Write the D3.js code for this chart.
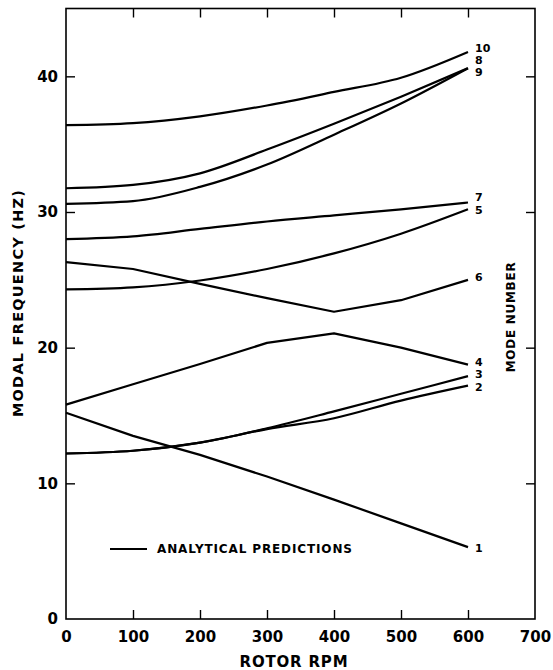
<!DOCTYPE html>
<html>
<head>
<meta charset="utf-8">
<script src="https://cdn.jsdelivr.net/npm/d3@7"></script>
<style>
  body { margin: 0; background: #fff; }
  svg { display: block; font-family: "DejaVu Sans", "Liberation Sans", Arial, sans-serif; font-weight: bold; }
</style>
</head>
<body>
<svg id="chart" width="553" height="670"></svg>
<script>
// ---- data ----
const rpm = [0, 100, 200, 300, 400, 500, 600];
const mode1  = [15.2, 13.5, 12.1, 10.5, 8.8, 7.05, 5.3];
const mode2  = [12.2, 12.4, 13.0, 14.0, 14.8, 16.1, 17.2];
const mode3  = [12.2, 12.4, 13.0, 14.05, 15.3, 16.6, 17.9];
const mode4  = [15.8, 17.3, 18.8, 20.35, 21.05, 20.0, 18.75];
const mode5  = [24.3, 24.45, 24.95, 25.8, 26.95, 28.4, 30.2];
const mode6  = [26.3, 25.8, 24.7, 23.65, 22.65, 23.5, 25.0];
const mode7  = [28.0, 28.2, 28.75, 29.3, 29.75, 30.2, 30.7];
const mode8  = [31.75, 32.0, 32.85, 34.6, 36.5, 38.5, 40.6];
const mode9  = [30.6, 30.8, 31.85, 33.5, 35.7, 38.0, 40.6];
const mode10 = [36.4, 36.55, 37.05, 37.85, 38.85, 39.9, 41.8];
const modeNames = ["1", "2", "3", "4", "5", "6", "7", "8", "9", "10"];
const xTicks = [0, 100, 200, 300, 400, 500, 600, 700];
const yTicks = [0, 10, 20, 30, 40];
const xTitle = "ROTOR RPM";
const yTitle = "MODAL FREQUENCY (HZ)";
const rightTitle = "MODE NUMBER";
const legendText = "ANALYTICAL PREDICTIONS";

const modes = [mode1, mode2, mode3, mode4, mode5, mode6, mode7, mode8, mode9, mode10];

// ---- layout ----
const svg = d3.select("#chart");
const L = 66, R = 535, T = 8.5, B = 619;
const x = d3.scaleLinear().domain([0, 700]).range([L, R]);
const y = d3.scaleLinear().domain([0, 45]).range([B, T]);

// frame
svg.append("rect").attr("x", L).attr("y", T).attr("width", R - L).attr("height", B - T)
  .attr("fill", "none").attr("stroke", "#000").attr("stroke-width", 1.6);

function styleAxis(g) {
  g.select(".domain").remove();
  g.selectAll(".tick line").attr("stroke", "#000").attr("stroke-width", 1.4);
  g.selectAll("text").attr("fill", "#000").style("font-size", "15px")
    .style("font-weight", "bold")
    .style("font-family", "'DejaVu Sans', 'Liberation Sans', Arial, sans-serif");
}

// bottom axis
svg.append("g").attr("transform", `translate(0,${B})`)
  .call(d3.axisBottom(x).tickValues(xTicks).tickFormat(d3.format("d")).tickSizeInner(-9).tickSizeOuter(0).tickPadding(12))
  .call(styleAxis)
  .call(g => g.selectAll(".tick").filter(d => d === 0 || d === 700).select("line").remove());

// left axis
svg.append("g").attr("transform", `translate(${L},0)`)
  .call(d3.axisLeft(y).tickValues(yTicks).tickFormat(d3.format("d")).tickSizeInner(-9).tickSizeOuter(0).tickPadding(8))
  .call(styleAxis)
  .call(g => g.selectAll(".tick").filter(d => d === 0).select("line").remove());

// top axis (ticks only)
svg.append("g").attr("transform", `translate(0,${T})`)
  .call(d3.axisTop(x).tickValues(xTicks.filter(d => d > 0 && d < 700)).tickFormat("").tickSizeInner(-9).tickSizeOuter(0))
  .call(styleAxis);

// right axis (ticks only)
svg.append("g").attr("transform", `translate(${R},0)`)
  .call(d3.axisRight(y).tickValues(yTicks.filter(d => d > 0)).tickFormat("").tickSizeInner(-9).tickSizeOuter(0))
  .call(styleAxis);

// ---- lines ----
const kinked = new Set(["1", "4", "6"]);
const lineSmooth = d3.line().x((d, i) => x(rpm[i])).y(d => y(d)).curve(d3.curveMonotoneX);
const lineStraight = d3.line().x((d, i) => x(rpm[i])).y(d => y(d)).curve(d3.curveLinear);

svg.append("g").selectAll("path").data(modes).join("path")
  .attr("d", (d, i) => (kinked.has(modeNames[i]) ? lineStraight : lineSmooth)(d))
  .attr("fill", "none").attr("stroke", "#000").attr("stroke-width", 2.2)
  .attr("stroke-linejoin", "round");

// mode labels at line ends
const labelY = {"10": 48, "8": 60.5, "9": 72.5, "7": 197, "5": 210, "6": 277, "4": 362, "3": 374.5, "2": 387, "1": 548};
svg.append("g").selectAll("text").data(modeNames).join("text")
  .attr("x", x(600) + 7)
  .attr("y", d => labelY[d])
  .attr("dy", "0.36em")
  .style("font-size", "11px")
  .text(d => d);

// fit a text to a measured width by letter spacing
function fit(sel, target) {
  const n = sel.text().length;
  const w = sel.node().getComputedTextLength();
  sel.style("letter-spacing", ((target - w) / (n - 1)) + "px");
  return sel;
}

// axis titles
fit(svg.append("text").attr("x", 294).attr("y", 667).attr("text-anchor", "middle")
  .style("font-size", "15px").text(xTitle), 108);

fit(svg.append("text").attr("transform", `translate(23,303) rotate(-90)`).attr("text-anchor", "middle")
  .style("font-size", "14.5px").text(yTitle), 227);

fit(svg.append("text").attr("transform", `translate(515,317) rotate(-90)`).attr("text-anchor", "middle")
  .style("font-size", "12px").text(rightTitle), 110);

// legend
svg.append("line").attr("x1", 110).attr("x2", 147).attr("y1", 549).attr("y2", 549)
  .attr("stroke", "#000").attr("stroke-width", 2.2);
fit(svg.append("text").attr("x", 157).attr("y", 549).attr("dy", "0.36em")
  .style("font-size", "12px").text(legendText), 195);
</script>
</body>
</html>
